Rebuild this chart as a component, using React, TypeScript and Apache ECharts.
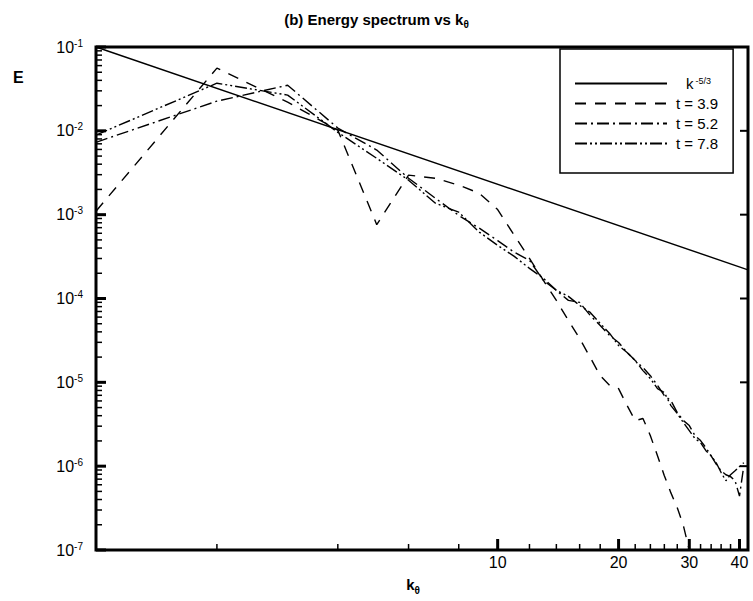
import React, { useEffect, useRef } from "react";
import * as echarts from "echarts";

// wavenumbers k_theta
const kValues = [1, 2, 3, 4, 5, 6, 7, 8, 9, 10, 11, 12, 13, 14, 15, 16, 17, 18, 19, 20, 21, 22, 23, 24, 25, 26, 27, 28, 29, 30, 31, 32, 33, 34, 35, 36, 37, 38, 39, 40, 41];

// reference slope k^-5/3 (two end points)
const refK = [1, 42];
const refE = [0.1, 2.2e-4];

// t = 3.9
const e39 = [1.1e-3, 5.6e-2, 2.2e-2, 1.02e-2, 7.6e-4, 2.96e-3, 2.72e-3, 2.25e-3, 1.8e-3, 1.15e-3, 5.67e-4, 3.01e-4, 1.64e-4, 9.5e-5, 5.47e-5, 3.33e-5, 1.98e-5, 1.2e-5, 9.2e-6, 8.4e-6, 5.3e-6, 3.5e-6, 3.7e-6, 2.31e-6, 1.33e-6, 7.7e-7, 4.8e-7, 3.2e-7, 1.95e-7, 1.0e-7, 5e-8];
// t = 5.2
const e52 = [7.3e-3, 2.26e-2, 3.5e-2, 1.08e-2, 5.9e-3, 2.72e-3, 1.57e-3, 9.8e-4, 6.9e-4, 4.9e-4, 3.56e-4, 2.85e-4, 1.64e-4, 1.25e-4, 9.5e-5, 8.98e-5, 6.28e-5, 4.77e-5, 3.62e-5, 2.99e-5, 2.27e-5, 1.82e-5, 1.5e-5, 1.2e-5, 9.2e-6, 6.95e-6, 6.06e-6, 4.36e-6, 3.5e-6, 3.05e-6, 2.31e-6, 2.02e-6, 1.66e-6, 1.33e-6, 1.06e-6, 8.8e-7, 7.9e-7, 7.5e-7, 6.7e-7, 4.4e-7, 1.01e-6];
// t = 7.8
const e78 = [8.9e-3, 3.7e-2, 2.67e-2, 9.6e-3, 4.7e-3, 2.58e-3, 1.37e-3, 1.07e-3, 6.2e-4, 4.3e-4, 3.18e-4, 2.29e-4, 1.74e-4, 1.25e-4, 1.06e-4, 8.27e-5, 6.82e-5, 5.04e-5, 3.83e-5, 2.75e-5, 2.27e-5, 1.82e-5, 1.38e-5, 1.11e-5, 8.4e-6, 7.55e-6, 5.28e-6, 4.24e-6, 3.31e-6, 2.65e-6, 2.13e-6, 1.91e-6, 1.53e-6, 1.33e-6, 1.1e-6, 8.4e-7, 6.7e-7, 7.9e-7, 8.8e-7, 9.9e-7, 1.1e-6];

// axis ranges and ticks
const xMin = 1;
const xMax = 42;
const yMin = 1e-7;
const yMax = 1e-1;
const xMajorTicks = [10, 20, 30, 40];
const xMinorTicks = [2, 4, 6, 8, 12, 14, 16, 18, 22, 24, 26, 28, 32, 34, 36, 38];
const yMajorTicks = [1e-7, 1e-6, 1e-5, 1e-4, 1e-3, 1e-2, 1e-1];
const yMinorMantissas = [2, 3, 4, 5, 6, 7, 8, 9];
const yDecades = [-7, -6, -5, -4, -3, -2];

const seriesNames = ["k-5/3", "t = 3.9", "t = 5.2", "t = 7.8"];

const FONT = "'Liberation Sans', Arial, Helvetica, sans-serif";

export default function App() {
  const ref = useRef<HTMLDivElement>(null);
  useEffect(() => {
    if (!ref.current) return;
    const chart = echarts.init(ref.current, null, { renderer: "svg" });
    const pairs = (arr: number[]) => arr.map((v, i) => [kValues[i], v]);
    const yMinorTicks = yDecades.flatMap((d) => yMinorMantissas.map((m) => m * Math.pow(10, d)));
    const lx = (v: number) => Math.log10(v);

    const nameE = {
      type: "text",
      left: 13,
      top: 69,
      z: 100,
      style: { text: "E", font: `bold 16px ${FONT}`, fill: "#000" },
    };

    const option: any = {
      animation: false,
      backgroundColor: "#fff",
      title: {
        text: "(b) Energy spectrum vs k{sub|θ}",
        left: "center",
        top: 4,
        textStyle: {
          fontFamily: FONT,
          fontSize: 15,
          fontWeight: "bold",
          color: "#000",
          rich: {
            sub: { fontFamily: FONT, fontSize: 10, fontWeight: "bold", color: "#000", verticalAlign: "bottom", lineHeight: 20 },
          },
        },
      },
      graphic: [nameE],
      legend: {
        orient: "vertical",
        left: 560,
        top: 49,
        padding: [27, 15, 22, 14],
        itemGap: 5,
        itemWidth: 92,
        itemHeight: 14,
        borderColor: "#000",
        borderWidth: 1.5,
        borderRadius: 0,
        data: seriesNames,
        itemStyle: { opacity: 0, borderWidth: 0 },
        formatter: (name: string) => (name === "k-5/3" ? "{sp|}{b|k}{sup|-5/3}" : "{b|" + name + "}"),
        textStyle: {
          fontFamily: FONT,
          fontSize: 15,
          color: "#000",
          rich: {
            sp: { width: 10 },
            b: { fontFamily: FONT, fontSize: 15, color: "#000", padding: [0, 0, 0, 4] },
            sup: { fontFamily: FONT, fontSize: 9, color: "#000", verticalAlign: "top", padding: [0, 0, 0, 2] },
          },
        },
      },
      grid: {
        left: 96,
        right: 5,
        top: 47,
        bottom: 51,
        show: true,
        borderColor: "#000",
        borderWidth: 3,
        backgroundColor: "transparent",
        containLabel: false,
        outerBoundsMode: "none",
      },
      xAxis: [
        {
          type: "log",
          logBase: 10,
          min: xMin,
          max: xMax,
          axisLine: { show: false, onZero: false },
          axisTick: { show: false },
          axisLabel: { show: false },
          splitLine: { show: false },
          minorTick: { show: false },
        },
        {
          type: "value",
          position: "bottom",
          min: 0,
          max: lx(xMax),
          name: "k{sub|θ}",
          nameLocation: "middle",
          nameGap: 24,
          nameTextStyle: {
            fontFamily: FONT,
            fontSize: 15,
            fontWeight: "bold",
            color: "#000",
            padding: [0, 18, 0, 0],
            rich: {
              sub: { fontFamily: FONT, fontSize: 10, fontWeight: "bold", color: "#000", verticalAlign: "bottom", lineHeight: 21 },
            },
          },
          axisLine: { show: false, onZero: false },
          axisTick: { show: false },
          axisLabel: {
            show: true,
            margin: 4,
            fontFamily: FONT,
            fontSize: 16,
            color: "#000",
            customValues: xMajorTicks.map(lx),
            formatter: (v: number) => String(Math.round(Math.pow(10, v))),
          },
          splitLine: { show: false },
          minorTick: { show: false },
        },
      ],
      yAxis: [
        {
          type: "log",
          logBase: 10,
          min: yMin,
          max: yMax,
          axisLine: { show: false, onZero: false },
          axisTick: { show: false },
          axisLabel: {
            show: true,
            margin: 13,
            formatter: (v: number) => "{b|10}{s|" + Math.round(Math.log10(v)) + "}",
            rich: {
              b: { fontFamily: FONT, fontSize: 16, color: "#000", lineHeight: 18 },
              s: { fontFamily: FONT, fontSize: 10, color: "#000", verticalAlign: "top", lineHeight: 10 },
            },
          },
          splitLine: { show: false },
          minorTick: { show: false },
        },
      ],
      series: [
        {
          name: seriesNames[0],
          type: "line",
          symbol: "none",
          data: refK.map((k, i) => [k, refE[i]]),
          lineStyle: { color: "#000", width: 1.4, type: "solid" },
          itemStyle: { color: "#000" },
        },
        {
          name: seriesNames[1],
          type: "line",
          symbol: "none",
          data: pairs(e39),
          lineStyle: { color: "#000", width: 1.4, type: [11, 9] },
          itemStyle: { color: "#000" },
        },
        {
          name: seriesNames[2],
          type: "line",
          symbol: "none",
          data: pairs(e52),
          lineStyle: { color: "#000", width: 1.4, type: [12, 4, 2, 4] },
          itemStyle: { color: "#000" },
        },
        {
          name: seriesNames[3],
          type: "line",
          symbol: "none",
          data: pairs(e78),
          lineStyle: { color: "#000", width: 1.4, type: [12, 3, 2, 3, 2, 3] },
          itemStyle: { color: "#000" },
        },
      ],
    };
    chart.setOption(option);

    // tick marks placed through the chart's own scales
    const finder = { xAxisIndex: 0, yAxisIndex: 0 };
    const toPx = (pt: number[]) => chart.convertToPixel(finder as any, pt) as number[];
    const tick = (x1: number, y1: number, x2: number, y2: number, w: number) => ({
      type: "line",
      z: 100,
      silent: true,
      shape: { x1, y1, x2, y2 },
      style: { stroke: "#000", lineWidth: w },
    });
    const ticks: any[] = [];
    yMajorTicks.forEach((v) => {
      const p = toPx([xMin, v]);
      const q = toPx([xMax, v]);
      ticks.push(tick(p[0], p[1], p[0] + 10, p[1], 3));
      ticks.push(tick(q[0], q[1], q[0] - 8, q[1], 2));
    });
    yMinorTicks.forEach((v) => {
      const p = toPx([xMin, v]);
      ticks.push(tick(p[0], p[1], p[0] + 6, p[1], 1.5));
    });
    xMajorTicks.forEach((v) => {
      const p = toPx([v, yMin]);
      ticks.push(tick(p[0], p[1], p[0], p[1] - 11, 3));
    });
    xMinorTicks.forEach((v) => {
      const p = toPx([v, yMin]);
      ticks.push(tick(p[0], p[1], p[0], p[1] - 6, 1.5));
    });
    chart.setOption({ graphic: [nameE, ...ticks] });

    return () => chart.dispose();
  }, []);
  return (
    <div
      ref={ref}
      style={{ position: "fixed", left: 0, top: 0, width: 753, height: 601, background: "#fff" }}
    />
  );
}
